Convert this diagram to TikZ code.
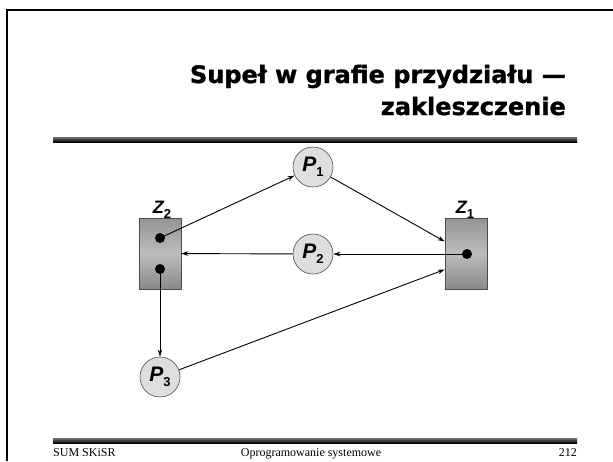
\documentclass[tikz,border=0pt]{standalone}
\usepackage{fontspec}
\setmainfont{Liberation Serif}
\newfontfamily\titlefont{DejaVu Sans}[BoldFeatures={FakeBold=1.2}]
\newfontfamily\labfont{Liberation Sans}
\usetikzlibrary{arrows.meta}
\newcommand\lblsub[2]{#1\raisebox{-5pt}{\fontsize{13}{13}\selectfont\upshape #2}}
\begin{document}
\begin{tikzpicture}[x=1pt,y=-1pt,
  proc/.style={circle, draw=black!70, fill=black!13, line width=0.6pt, minimum size=40pt, inner sep=0pt,
    font=\labfont\bfseries\itshape\fontsize{21}{21}\selectfont},
  res/.style={rectangle, draw=black!70, line width=0.6pt, minimum width=42pt, minimum height=71pt, inner sep=0pt,
    top color=black!42, bottom color=black!46, middle color=black!26},
  tok/.style={circle, fill=black, minimum size=10pt, inner sep=0pt},
  conn/.style={-{Stealth[length=7pt,width=4.5pt]}, line width=0.9pt},
  reslab/.style={inner sep=0pt, anchor=base, font=\labfont\bfseries\itshape\fontsize{18}{18}\selectfont},
  foot/.style={inner sep=0pt, font=\fontsize{12}{12}\selectfont},
  titl/.style={inner sep=0pt, anchor=base east, font=\titlefont\bfseries\fontsize{24}{24}\selectfont},
  rule/.style={top color=black!55, bottom color=black},
]
\useasboundingbox (0,0) rectangle (613,461);
\fill[white] (0,0) rectangle (613,461);
% frame
\draw[line width=2pt] (7,461) -- (7,10) -- (613,10);
% title
\node[titl] (t1) at (566,83) {Supeł w grafie przydziału —};
\node[titl] (t2) at (566,115) {zakleszczenie};
% rules
\shade[rule] (53,137) rectangle (577,142);
\shade[rule] (53,438) rectangle (577,443);
% footer
\node[foot, anchor=base west] (f1) at (53,456) {SUM SKiSR};
\node[foot, anchor=base] (f2) at (311,456) {Oprogramowanie systemowe};
\node[foot, anchor=base east] (f3) at (577,456) {212};
% resources
\node[res] (Z2) at (160,253.5) {};
\node[res] (Z1) at (466,253.5) {};
\node[reslab] (z2l) at (162,213) {\lblsub{Z}{2}};
\node[reslab] (z1l) at (465,213) {\lblsub{Z}{1}};
\node[tok] (z2a) at (160,238) {};
\node[tok] (z2b) at (160,269) {};
\node[tok] (z1a) at (467,254) {};
% processes
\node[proc] (P1) at (313,167) {\lblsub{P}{1}};
\node[proc] (P2) at (313,254) {\lblsub{P}{2}};
\node[proc] (P3) at (160,377) {\lblsub{P}{3}};
\coordinate (z1in) at ([yshift=-16pt]Z1.west);
% edges
\draw[conn] (z2a.center) -- (P1);
\draw[conn] (P1) -- (Z1);
\draw[conn] (z1a.center) -- (P2);
\draw[conn] (P2) -- (Z2);
\draw[conn] (z2b.center) -- (P3);
\draw[conn] (P3) -- (z1in);
\end{tikzpicture}
\end{document}
